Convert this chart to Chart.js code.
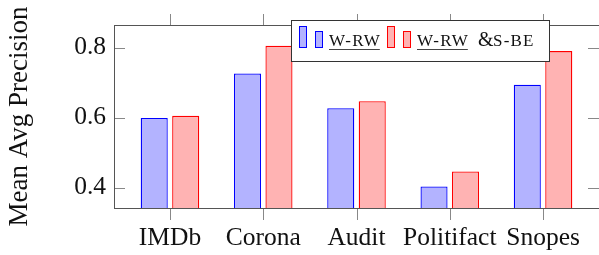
<!DOCTYPE html>
<html>
<head>
<meta charset="utf-8">
<script src="https://cdn.jsdelivr.net/npm/chart.js@4.4.1/dist/chart.umd.min.js"></script>
<style>
  html, body { margin: 0; padding: 0; background: #fff; }
  #wrap { width: 599px; height: 255px; position: relative; }
</style>
</head>
<body>
<div id="wrap"><canvas id="chart" width="599" height="255"></canvas></div>
<script>
const categories = ["IMDb", "Corona", "Audit", "Politifact", "Snopes"];
const wrwValues = [0.599, 0.726, 0.627, 0.403, 0.694];
const wrwSbeValues = [0.605, 0.805, 0.647, 0.446, 0.790];
const yTicks = [0.4, 0.6, 0.8];

const SERIF = "'Liberation Serif', 'DejaVu Serif', serif";
const AXIS_COLOR = "#555";
const TICK_COLOR = "#888";
const BLUE = "rgb(0,0,255)";
const BLUE_FILL = "#b3b3ff";
const RED = "rgb(255,0,0)";
const RED_FILL = "#ffb3b3";

// box, inward y ticks, outward x ticks and the ybar legend
const frameAndLegend = {
  id: "frameAndLegend",
  afterDraw(chart) {
    const { ctx, chartArea: a, scales } = chart;
    const left = Math.round(a.left);
    const right = Math.round(a.right);
    const top = Math.round(a.top);
    const bottom = Math.round(a.bottom);
    ctx.save();
    ctx.fillStyle = TICK_COLOR;

    yTicks.forEach((v) => {
      const y = Math.round(scales.y.getPixelForValue(v));
      ctx.fillRect(left, y, 11, 1);
      ctx.fillRect(right - 11, y, 11, 1);
    });
    categories.forEach((c, i) => {
      const x = Math.round(scales.x.getPixelForValue(i));
      ctx.fillRect(x, top - 11, 1, 11);
      ctx.fillRect(x, bottom, 1, 12);
    });

    ctx.fillStyle = AXIS_COLOR;
    ctx.fillRect(left, top, right - left, 1);
    ctx.fillRect(left, bottom, right - left, 1);
    ctx.fillRect(left, top, 1, bottom - top + 1);
    ctx.fillRect(right, top, 1, bottom - top + 1);

    // legend
    const lx = 291, ly = 20, lw = 258, lh = 41;
    ctx.fillStyle = "#fff";
    ctx.fillRect(lx, ly, lw, lh);
    ctx.lineWidth = 1;
    ctx.strokeStyle = "#333";
    ctx.strokeRect(lx + 0.5, ly + 0.5, lw, lh);

    const icon = (x, fill, stroke) => {
      ctx.fillStyle = fill;
      ctx.strokeStyle = stroke;
      ctx.fillRect(x, 26, 8, 22);
      ctx.strokeRect(x + 0.5, 26.5, 7, 21);
      ctx.fillRect(x + 16, 31, 8, 17);
      ctx.strokeRect(x + 16.5, 31.5, 7, 16);
    };
    icon(299, BLUE_FILL, BLUE);
    icon(387, RED_FILL, RED);

    ctx.fillStyle = "#111";
    ctx.textBaseline = "alphabetic";
    ctx.font = "17px " + SERIF;
    ctx.letterSpacing = "1.2px";
    const under = (text, x) => {
      ctx.fillText(text, x, 46);
      const w = ctx.measureText(text).width - 1.2;
      ctx.fillStyle = "#444";
      ctx.fillRect(x, 49, w, 1);
      ctx.fillStyle = "#111";
    };
    under("W-RW", 329);
    under("W-RW", 417);
    ctx.letterSpacing = "0px";
    ctx.font = "20px " + SERIF;
    ctx.fillText("&", 478, 46);
    ctx.font = "17px " + SERIF;
    ctx.letterSpacing = "1.2px";
    ctx.fillText("S-BE", 493, 46);
    ctx.restore();
  },
};

new Chart(document.getElementById("chart"), {
  type: "bar",
  data: {
    datasets: [
      {
        label: "W-RW",
        data: wrwValues.map((v, i) => ({ x: i, y: v })),
        backgroundColor: BLUE_FILL,
        borderColor: BLUE,
        borderWidth: 1.3,
      },
      {
        label: "W-RW &S-BE",
        data: wrwSbeValues.map((v, i) => ({ x: i, y: v })),
        backgroundColor: RED_FILL,
        borderColor: RED,
        borderWidth: 1.3,
      },
    ],
  },
  options: {
    responsive: false,
    animation: false,
    devicePixelRatio: 1,
    categoryPercentage: 0.675,
    barPercentage: 0.86,
    layout: { padding: { top: 25, right: 0, left: 0, bottom: 0 } },
    plugins: { legend: { display: false }, tooltip: { enabled: false } },
    scales: {
      x: {
        type: "linear",
        min: -0.6,
        max: 4.6,
        offset: false,
        afterBuildTicks: (s) => { s.ticks = categories.map((c, i) => ({ value: i })); },
        afterFit: (s) => { s.height = 47; },
        grid: { display: false, drawTicks: false },
        border: { display: false },
        ticks: {
          autoSkip: false,
          maxRotation: 0,
          padding: 15,
          color: "#111",
          font: { family: SERIF, size: 25.5 },
          callback: (v) => categories[v],
        },
      },
      y: {
        min: 0.3417,
        max: 0.8646,
        afterBuildTicks: (s) => { s.ticks = yTicks.map((v) => ({ value: v })); },
        afterFit: (s) => { s.width = 114; },
        grid: { drawOnChartArea: false, drawTicks: false },
        border: { display: false },
        ticks: {
          padding: 8,
          color: "#111",
          font: { family: SERIF, size: 25.5 },
          callback: (v) => v.toFixed(1),
        },
        title: {
          display: true,
          text: "Mean Avg Precision",
          color: "#111",
          font: { family: SERIF, size: 27 },
          padding: { top: 4, bottom: 0 },
        },
      },
    },
  },
  plugins: [frameAndLegend],
});
</script>
</body>
</html>
